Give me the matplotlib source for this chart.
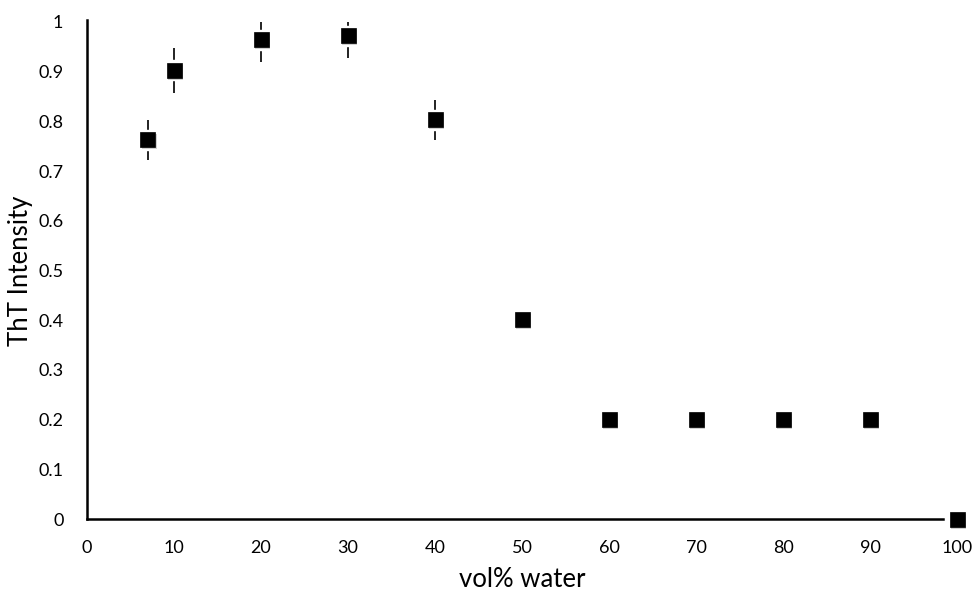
import matplotlib
matplotlib.use("Agg")
import matplotlib.pyplot as plt
import matplotlib.patheffects as pe

plt.rcParams['font.family'] = ['Lato', 'DejaVu Sans']

vol_water = [7, 10, 20, 30, 40, 50, 60, 70, 80, 90, 100]
tht_intensity = [0.763, 0.903, 0.964, 0.972, 0.803, 0.402, 0.201, 0.201, 0.201, 0.201, 0.0]
tht_error = [0.04, 0.045, 0.045, 0.045, 0.04, 0.0, 0.0, 0.0, 0.0, 0.0, 0.0]
x_ticks = [0, 10, 20, 30, 40, 50, 60, 70, 80, 90, 100]
y_ticks = [0, 0.1, 0.2, 0.3, 0.4, 0.5, 0.6, 0.7, 0.8, 0.9, 1]
y_tick_labels = ['0', '0.1', '0.2', '0.3', '0.4', '0.5', '0.6', '0.7', '0.8', '0.9', '1']

fig = plt.figure(figsize=(9.74, 5.92), dpi=100)
ax = fig.add_axes([87/974, 1 - 519/592, (957 - 87)/974, (519 - 22)/592])

ax.errorbar(vol_water, tht_intensity, yerr=tht_error, fmt='none',
            ecolor='#222222', elinewidth=1.4, capsize=0, zorder=2, clip_on=True)
# white halo behind markers (gap in the error bars)
ax.plot(vol_water, tht_intensity, ls='none', marker='s', markersize=14.5,
        markerfacecolor='white', markeredgecolor='white', zorder=3, clip_on=False)
ax.plot(vol_water, tht_intensity, ls='none', marker='s', markersize=10.8,
        markerfacecolor='black', markeredgecolor='black', markeredgewidth=0.5,
        zorder=4, clip_on=False,
        path_effects=[pe.SimplePatchShadow(offset=(0.8, -1.5), shadow_rgbFace='#999999', alpha=0.45),
                      pe.Normal()])

ax.set_xlim(0, 100)
ax.set_ylim(0, 1)
ax.set_xticks(x_ticks)
ax.set_yticks(y_ticks)
ax.set_yticklabels(y_tick_labels)
ax.tick_params(axis='both', length=0, labelsize=13, colors='black')
ax.tick_params(axis='x', pad=15)
ax.tick_params(axis='y', pad=17)

for s in ['top', 'right']:
    ax.spines[s].set_visible(False)
for s in ['left', 'bottom']:
    ax.spines[s].set_linewidth(1.8)
    ax.spines[s].set_color('black')
ax.spines['bottom'].set_bounds(0, 98.4)
ax.spines['left'].set_bounds(0, 1.004)

ax.set_xlabel('vol% water', fontsize=18.5, labelpad=8)
ax.set_ylabel('ThT Intensity', fontsize=18.5, labelpad=4)

fig.savefig('out.png', dpi=100)
